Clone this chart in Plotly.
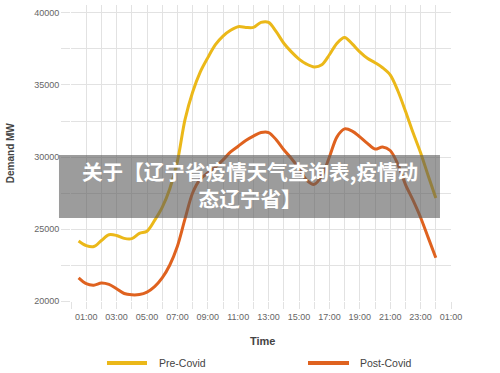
import plotly.graph_objects as go

# Time in hours (half-hourly readings)
hours = [0.5, 1.0, 1.5, 2.0, 2.5, 3.0, 3.5, 4.0, 4.5, 5.0, 5.5, 6.0, 6.5, 7.0, 7.5, 8.0,
         8.5, 9.0, 9.5, 10.0, 10.5, 11.0, 11.5, 12.0, 12.5, 13.0, 13.5, 14.0, 14.5, 15.0,
         15.5, 16.0, 16.5, 17.0, 17.5, 18.0, 18.5, 19.0, 19.5, 20.0, 20.5, 21.0, 21.5,
         22.0, 22.5, 23.0, 23.5, 24.0]

pre_covid = [24170, 23850, 23780, 24200, 24600, 24550, 24350, 24330, 24700, 24850, 25600,
             26500, 27800, 29700, 32600, 34500, 35900, 36900, 37800, 38400, 38800, 39050,
             39000, 39000, 39350, 39350, 38700, 37900, 37300, 36800, 36450, 36250, 36400,
             37100, 37900, 38300, 37850, 37300, 36850, 36550, 36200, 35700, 34600, 33200,
             31700, 30300, 28700, 27150]

post_covid = [21600, 21200, 21100, 21250, 21150, 20850, 20520, 20430, 20450, 20620, 21000,
              21600, 22500, 23800, 25700, 27500, 28450, 28900, 29300, 29800, 30350, 30750,
              31150, 31450, 31700, 31700, 31200, 30500, 29900, 29200, 28400, 28100, 28700,
              30000, 31400, 31950, 31800, 31400, 30950, 30550, 30700, 30450, 29500, 28100,
              27000, 25800, 24400, 23000]

series_names = ["Pre-Covid", "Post-Covid"]

x_tick_vals = [1, 3, 5, 7, 9, 11, 13, 15, 17, 19, 21, 23, 25]
x_tick_text = ["01:00", "03:00", "05:00", "07:00", "09:00", "11:00", "13:00", "15:00",
               "17:00", "19:00", "21:00", "23:00", "01:00"]
y_tick_vals = [20000, 25000, 30000, 35000, 40000]
y_tick_text = ["20000", "25000", "30000", "35000", "40000"]

banner_text = "关于【辽宁省疫情天气查询表,疫情动<br>态辽宁省】"

PRE_COLOR = "#EBB819"
POST_COLOR = "#DF621F"
GRID = "#e2e2e2"
FONT = "Liberation Sans, Arial, sans-serif"

fig = go.Figure()
fig.add_trace(go.Scatter(x=hours, y=pre_covid, mode="lines", name=series_names[0],
                         line=dict(color=PRE_COLOR, width=3, shape="spline", smoothing=0.9)))
fig.add_trace(go.Scatter(x=hours, y=post_covid, mode="lines", name=series_names[1],
                         line=dict(color=POST_COLOR, width=3, shape="spline", smoothing=0.9)))

fig.update_layout(
    width=500, height=373,
    margin=dict(l=71, r=49, t=5, b=72),
    paper_bgcolor="white", plot_bgcolor="white",
    font=dict(family=FONT, color="#555"),
    showlegend=False,
    xaxis=dict(range=[0, 25], tickvals=x_tick_vals, ticktext=x_tick_text, automargin=False,
               showgrid=True, gridcolor=GRID, gridwidth=1, zeroline=False, showline=False,
               ticks="outside", ticklen=7, tickcolor=GRID,
               tickfont=dict(size=9, color="#666"),
               minor=dict(dtick=1, tick0=0, showgrid=True, gridcolor=GRID, gridwidth=1,
                          ticks="outside", ticklen=7, tickcolor=GRID)),
    yaxis=dict(range=[20000, 40555], tickvals=y_tick_vals, ticktext=y_tick_text,
               automargin=False,
               showgrid=True, gridcolor=GRID, gridwidth=1, zeroline=False, showline=False,
               ticks="outside", ticklen=9, tickcolor=GRID,
               tickfont=dict(size=9, color="#666"),
               minor=dict(dtick=2500, tick0=0, showgrid=True, gridcolor=GRID, gridwidth=1,
                          ticks="outside", ticklen=9, tickcolor=GRID)),
)

# Axis titles
fig.add_annotation(xref="paper", yref="paper", x=0.505, y=-0.135, text="<b>Time</b>",
                   showarrow=False, xanchor="center", yanchor="middle",
                   font=dict(family=FONT, size=11, color="#444"))
fig.add_annotation(xref="paper", yref="paper", x=-0.160, y=0.5, text="<b>Demand MW</b>",
                   showarrow=False, textangle=-90, xanchor="center", yanchor="middle",
                   font=dict(family=FONT, size=10, color="#444"))

# Legend (drawn manually for spacing)
legend_y = -0.2095
for name, color, x0, x1, xt in [(series_names[0], PRE_COLOR, 0.0947, 0.2000, 0.226),
                                 (series_names[1], POST_COLOR, 0.6237, 0.7316, 0.755)]:
    fig.add_shape(type="line", xref="paper", yref="paper", x0=x0, x1=x1,
                  y0=legend_y, y1=legend_y, line=dict(color=color, width=4))
    fig.add_annotation(xref="paper", yref="paper", x=xt, y=legend_y, text=name,
                       showarrow=False, xanchor="left", yanchor="middle",
                       font=dict(family=FONT, size=10.5, color="#444"))

# Overlay banner
fig.add_shape(type="rect", xref="paper", yref="paper",
              x0=-0.0316, x1=0.971, y0=0.280, y1=0.493,
              fillcolor="rgba(90,90,90,0.6)", line=dict(width=0), layer="above")
fig.add_annotation(xref="paper", yref="paper", x=0.471, y=0.392, text=banner_text,
                   showarrow=False, align="center", xanchor="center", yanchor="middle",
                   font=dict(family="Noto Sans CJK SC", size=20.6, color="white", weight="bold"))

fig.write_html("out.html", config={"displayModeBar": False},
               post_script="document.body.style.margin='0';document.body.style.overflow='hidden';")
